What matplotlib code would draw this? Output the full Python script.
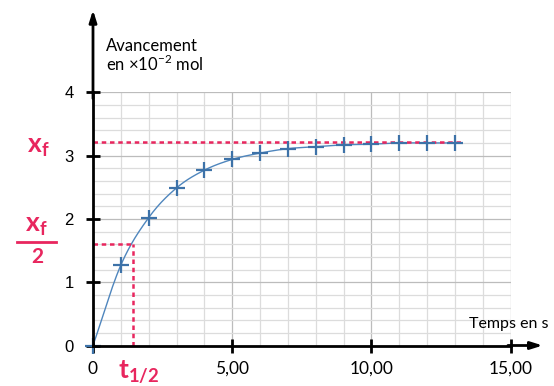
import matplotlib
matplotlib.use("Agg")
import matplotlib.pyplot as plt
import numpy as np

# Data
t = [0, 1, 2, 3, 4, 5, 6, 7, 8, 9, 10, 11, 12, 13]
x = [0, 1.27, 2.02, 2.49, 2.77, 2.94, 3.04, 3.11, 3.14, 3.17, 3.18, 3.20, 3.20, 3.20]
x_f = 3.22
t_half = 1.45
x_ticks = [0, 5, 10, 15]
x_ticklabels = ["0", "5,00", "10,00", "15,00"]
y_ticks = [0, 1, 2, 3, 4]

PINK = "#e8265e"
BLUE = "#3d72a8"
TXT = ["Lato", "DejaVu Sans"]


# smooth curve through the points (Catmull-Rom)
def smooth(xs, ys, n=20):
    xs = np.asarray(xs, float)
    ys = np.asarray(ys, float)
    px = np.concatenate([[2 * xs[0] - xs[1]], xs, [2 * xs[-1] - xs[-2]]])
    py = np.concatenate([[2 * ys[0] - ys[1]], ys, [ys[-1]]])
    out_x, out_y = [], []
    for i in range(1, len(px) - 2):
        s = np.linspace(0, 1, n, endpoint=False)
        for p, o in ((px, out_x), (py, out_y)):
            p0, p1, p2, p3 = p[i - 1], p[i], p[i + 1], p[i + 2]
            o.extend(0.5 * (2 * p1 + (-p0 + p2) * s
                            + (2 * p0 - 5 * p1 + 4 * p2 - p3) * s ** 2
                            + (-p0 + 3 * p1 - 3 * p2 + p3) * s ** 3))
    out_x.append(xs[-1])
    out_y.append(ys[-1])
    return np.array(out_x), np.array(out_y)


fig = plt.figure(figsize=(5.54, 3.86), dpi=100)
ax = fig.add_axes([93 / 554, 40.5 / 386, 417.7 / 554, 253.2 / 386])
ax.set_xlim(0, 15)
ax.set_ylim(0, 4)

# grid
ax.set_xticks(np.arange(0, 16, 1), minor=True)
ax.set_yticks(np.arange(0, 4.01, 0.2), minor=True)
ax.grid(which="minor", color="#dcdcdc", lw=0.9)
ax.grid(which="major", color="#bcbcbc", lw=0.9)
ax.set_axisbelow(True)

for s in ["top", "right"]:
    ax.spines[s].set_visible(False)
for s in ["left", "bottom"]:
    ax.spines[s].set_linewidth(2)
    ax.spines[s].set_zorder(5)

ax.set_xticks(x_ticks)
ax.set_xticklabels(x_ticklabels, fontfamily=TXT, fontsize=12.5)
ax.set_yticks(y_ticks)
ax.set_yticklabels([str(v) for v in y_ticks], fontfamily="Liberation Sans", fontsize=12)
ax.tick_params(which="major", direction="inout", length=10, width=2)
ax.tick_params(axis="x", pad=6)
ax.tick_params(axis="y", pad=9)
ax.tick_params(which="minor", length=0)

# axis arrows
ax.annotate("", xy=(0, 5.3), xytext=(0, 3.9), annotation_clip=False,
            arrowprops=dict(arrowstyle="-|>,head_length=0.7,head_width=0.22",
                            color="black", lw=2, shrinkA=0, shrinkB=0))
ax.annotate("", xy=(16.15, 0), xytext=(14.9, 0), annotation_clip=False,
            arrowprops=dict(arrowstyle="-|>,head_length=0.7,head_width=0.22",
                            color="black", lw=2, shrinkA=0, shrinkB=0))

# dashed lines
dash = dict(color=PINK, lw=1.8, ls=(0, (1.8, 1.5)), clip_on=False, zorder=4)
ax.plot([0, 13.3], [x_f, x_f], **dash)
ax.plot([0, t_half], [x_f / 2, x_f / 2], **dash)
ax.plot([t_half, t_half], [0, x_f / 2], **dash)

# curve and points
cx, cy = smooth(t, x)
ax.plot(cx, cy, color="#4f86bd", lw=1, zorder=3, clip_on=False)
ax.plot(t, x, ls="none", marker="+", ms=12, mew=1.6, color=BLUE, zorder=4,
        clip_on=False)

# texts
ax.text(0.47, 4.65, "Avancement", fontfamily=TXT, fontsize=12,
        va="baseline")
ax.text(0.47, 4.34, "en \u00d710$^{\\mathregular{-2}}$ mol", fontfamily=TXT,
        fontsize=12, va="baseline")
ax.text(13.5, 0.28, "Temps en s", fontfamily=TXT, fontsize=11.5,
        va="baseline", clip_on=False)

fig.text(27 / 554, 1 - 147 / 386, "x$_\\mathregular{f}$", color=PINK,
         fontfamily=TXT, fontsize=19, fontweight="bold", ha="left", va="center")
fig.text(36 / 554, 1 - 226 / 386, "x$_\\mathregular{f}$", color=PINK,
         fontfamily=TXT, fontsize=19, fontweight="bold", ha="center", va="center")
fig.add_artist(plt.Line2D([17 / 554, 56 / 554], [1 - 241.5 / 386, 1 - 241.5 / 386],
                          color=PINK, lw=2))
fig.text(37 / 554, 1 - 257 / 386, "2", color=PINK, fontfamily=TXT,
         fontsize=15, fontweight="bold", ha="center", va="center")
fig.text(118 / 554, 1 - 372 / 386, "t$_\\mathregular{1/2}$", color=PINK,
         fontfamily=TXT, fontsize=19, fontweight="bold", ha="left", va="center")

fig.savefig("out.png", dpi=100)
